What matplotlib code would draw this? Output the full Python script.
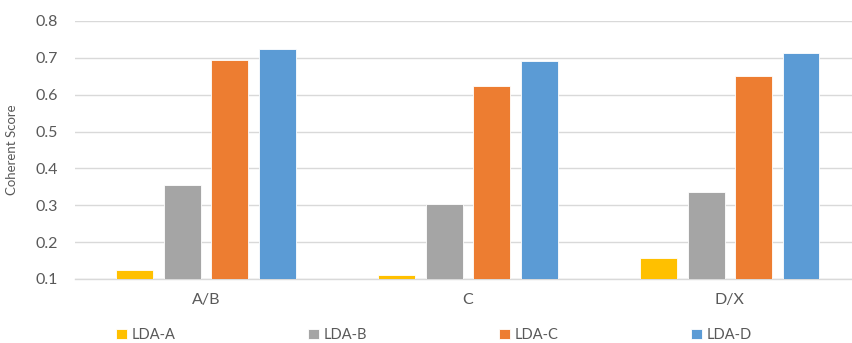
import matplotlib
matplotlib.use("Agg")
import matplotlib.pyplot as plt
import numpy as np

plt.rcParams['font.family'] = ['Lato', 'DejaVu Sans']

categories = ["A/B", "C", "D/X"]
series_names = ["LDA-A", "LDA-B", "LDA-C", "LDA-D"]
lda_a = [0.124, 0.112, 0.156]
lda_b = [0.355, 0.304, 0.335]
lda_c = [0.693, 0.623, 0.652]
lda_d = [0.723, 0.691, 0.713]
y_ticks = [0.1, 0.2, 0.3, 0.4, 0.5, 0.6, 0.7, 0.8]
colors = ["#FFC000", "#A5A5A5", "#ED7D31", "#5B9BD5"]
text_color = "#595959"

fig = plt.figure(figsize=(8.53, 3.43), dpi=100)
ax = fig.add_axes([75 / 853, 1 - 279 / 343, (853 - 75) / 853, (279 - 21) / 343])

x = np.arange(len(categories))
width = 0.141
step = 0.181
offsets = (np.arange(4) - 1.5) * step
for vals, name, col, off in zip([lda_a, lda_b, lda_c, lda_d], series_names, colors, offsets):
    ax.bar(x + off, np.array(vals) - 0.1, width, bottom=0.1, color=col, label=name,
           edgecolor="white", linewidth=0.6, zorder=3)

ax.set_ylim(0.1, 0.8)
ax.set_xlim(-0.5, 2.47)
ax.set_yticks(y_ticks)
ax.set_yticklabels([f"{t:.1f}" for t in y_ticks])
ax.set_xticks(x)
ax.set_xticklabels(categories)
ax.grid(axis="y", color="#D9D9D9", linewidth=1.0, zorder=0)
ax.set_axisbelow(True)
for s in ["top", "right", "left"]:
    ax.spines[s].set_visible(False)
ax.spines["bottom"].set_color("#D9D9D9")
ax.spines["bottom"].set_linewidth(1.0)
ax.tick_params(axis="both", length=0, colors=text_color, labelsize=11.5)
ax.tick_params(axis="x", pad=10)
ax.tick_params(axis="y", pad=12)
ax.set_ylabel("Coherent Score", color=text_color, fontsize=9.5)
ax.yaxis.set_label_coords((18 - 75) / 778, 0.5)

leg = fig.legend(loc="center", bbox_to_anchor=(434 / 853, 1 - 335 / 343), ncol=4,
                 frameon=False, handlelength=0.75, handleheight=0.75, handletextpad=0.3,
                 columnspacing=9.1, fontsize=10.5, labelcolor=text_color)

fig.savefig("out.png", dpi=100, facecolor="white")
